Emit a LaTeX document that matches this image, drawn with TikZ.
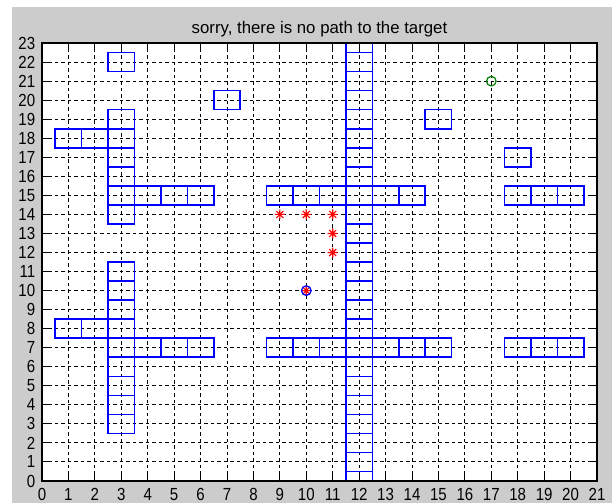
\documentclass[tikz,border=0pt]{standalone}
\usepackage{fontspec}
\setmainfont{Liberation Sans}
\usepackage{tikz}
\definecolor{figgray}{RGB}{204,204,204}
\definecolor{mblue}{RGB}{0,0,255}
\definecolor{mgreen}{RGB}{0,128,0}

\begin{document}
\begin{tikzpicture}[x=26.43pt,y=19.04pt,
  cell/.style={draw=mblue,line width=1.5pt},
  gridline/.style={black,line width=1pt,dash pattern=on 3.5pt off 3pt},
  tickmark/.style={black,line width=1pt},
  ticklbl/.style={font=\fontsize{17.5}{19}\selectfont,inner sep=0pt,xscale=0.86},
  star/.style={red,line width=1.1pt}]
  \useasboundingbox (-1.589,-1.155) rectangle (21.718,25.263);
  \fill[figgray] (-1.135,-1.155) rectangle (21.566,24.895);
  \fill[white] (0,0) rectangle (21,23);
  % grid and ticks
  \foreach \i in {1,...,20} \draw[gridline] (\i,0) -- (\i,23);
  \foreach \j in {1,...,22} \draw[gridline] (0,\j) -- (21,\j);
  \foreach \i in {0,...,21} {
    \draw[tickmark] (\i,0) -- ++(0,8pt);
    \draw[tickmark] (\i,23) -- ++(0,-8pt);
    \node[ticklbl,anchor=base] (xt\i) at (\i,-1.0) {\i};
  }
  \foreach \j in {0,...,23} {
    \draw[tickmark] (0,\j) -- ++(6pt,0);
    \draw[tickmark] (21,\j) -- ++(-6pt,0);
    \node[ticklbl,anchor=east] (yt\j) at (-0.25,\j) {\j};
  }
  % obstacles
  \begin{scope}
    \clip (0,0) rectangle (21,23);
    \foreach \y in {0,...,23} \draw[cell] (11.5,\y-0.5) rectangle ++(1,1);
    \foreach \y in {3,...,11,14,15,...,19,22} \draw[cell] (2.5,\y-0.5) rectangle ++(1,1);
    \foreach \x/\y in {1/18,2/18,4/15,5/15,6/15,1/8,2/8,4/7,5/7,6/7,7/20,15/19,18/17,
      9/15,10/15,11/15,13/15,14/15,9/7,10/7,11/7,13/7,14/7,15/7,
      18/15,19/15,20/15,18/7,19/7,20/7}
      \draw[cell] (\x-0.5,\y-0.5) rectangle ++(1,1);
  \end{scope}
  \draw[line width=1.8pt] (0,0) rectangle (21,23);
  % visited points, start and target
  \foreach \p in {(9,14),(10,14),(11,14),(11,13),(11,12),(10,10)}
    \draw[star] \p +(-5pt,0) -- +(5pt,0) \p +(0,-5pt) -- +(0,5pt)
      \p +(-3.5pt,-3.5pt) -- +(3.5pt,3.5pt) \p +(-3.5pt,3.5pt) -- +(3.5pt,-3.5pt);
  \draw[mblue,line width=1.3pt] (10,10) circle (4.8pt);
  \draw[mgreen,line width=1.2pt] (17,21) circle (4.8pt);
  \node[font=\fontsize{16.8}{18}\selectfont,anchor=base,inner sep=0pt] (title) at (10.5,23.5)
    {sorry, there is no path to the target};
\end{tikzpicture}
\end{document}
